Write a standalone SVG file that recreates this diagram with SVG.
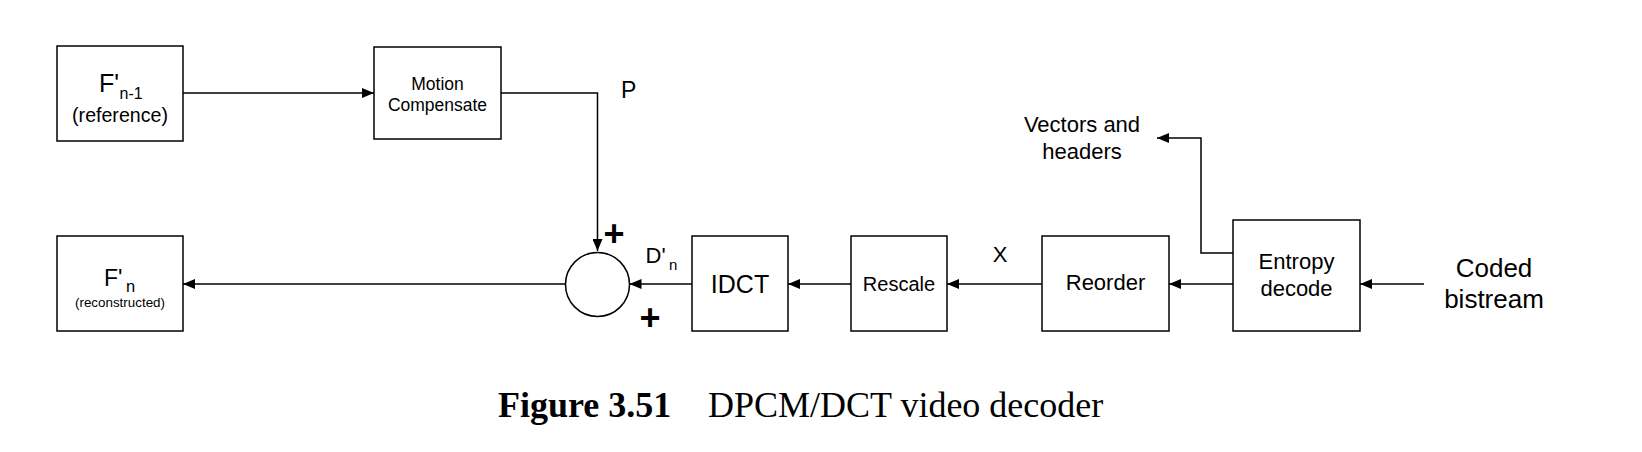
<svg xmlns="http://www.w3.org/2000/svg" width="1642" height="452" viewBox="0 0 1642 452">
<style>
  .box { fill: #ffffff; stroke: #000000; stroke-width: 1.5; }
  .conn { fill: none; stroke: #000000; stroke-width: 1.5; }
  .t { font-family: "Liberation Sans", Arial, Helvetica, sans-serif; fill: #000000; }
  .mid { text-anchor: middle; }
  .plus { font-family: "Liberation Sans", Arial, Helvetica, sans-serif; font-weight: bold; font-size: 36px; text-anchor: middle; fill: #000000; }
  .cap { font-family: "Liberation Serif", "Times New Roman", serif; font-size: 36px; fill: #000000; }
</style>
<defs>
  <marker id="arrow" viewBox="0 0 12 10" refX="12" refY="5" markerWidth="12" markerHeight="10" markerUnits="userSpaceOnUse" orient="auto">
    <path d="M0,0 L12,5 L0,10 z" fill="#000000"/>
  </marker>
</defs>
<rect width="1642" height="452" fill="#ffffff"/>

<g id="connectors">
  <path class="conn" d="M183,93 L374,93" marker-end="url(#arrow)"/>
  <path class="conn" d="M501,93 L597.5,93 L597.5,251" marker-end="url(#arrow)"/>
  <path class="conn" d="M692,284 L629.5,284" marker-end="url(#arrow)"/>
  <path class="conn" d="M565.5,284 L183,284" marker-end="url(#arrow)"/>
  <path class="conn" d="M851,284 L788,284" marker-end="url(#arrow)"/>
  <path class="conn" d="M1042,284 L947,284" marker-end="url(#arrow)"/>
  <path class="conn" d="M1233,284 L1169,284" marker-end="url(#arrow)"/>
  <path class="conn" d="M1233,253 L1201,253 L1201,138 L1157,138" marker-end="url(#arrow)"/>
  <path class="conn" d="M1424,284 L1360,284" marker-end="url(#arrow)"/>
</g>

<g id="node-fn1">
  <rect class="box" x="57" y="46" width="126" height="95"/>
  <text class="t" x="99" y="92" font-size="25">F'<tspan x="119.5" dy="6.5" font-size="16">n-1</tspan></text>
  <text class="t mid" x="120" y="122" font-size="19.6">(reference)</text>
</g>

<g id="node-mc">
  <rect class="box" x="374" y="47" width="127" height="92"/>
  <text class="t mid" x="437.5" y="90" font-size="17.5">Motion</text>
  <text class="t mid" x="437.5" y="111" font-size="17.5">Compensate</text>
</g>

<g id="node-fn">
  <rect class="box" x="57" y="236" width="126" height="95"/>
  <text class="t" x="104" y="286" font-size="23">F'<tspan x="126" dy="5.5" font-size="16.5">n</tspan></text>
  <text class="t mid" x="120" y="306.5" font-size="13.4">(reconstructed)</text>
</g>

<g id="node-sum">
  <circle class="box" cx="597.5" cy="284.5" r="32"/>
</g>

<g id="node-idct">
  <rect class="box" x="692" y="236" width="96" height="95"/>
  <text class="t mid" x="740" y="293" font-size="25">IDCT</text>
</g>

<g id="node-rescale">
  <rect class="box" x="851" y="236" width="96" height="95"/>
  <text class="t mid" x="899" y="291" font-size="20">Rescale</text>
</g>

<g id="node-reorder">
  <rect class="box" x="1042" y="236" width="127" height="95"/>
  <text class="t mid" x="1105.5" y="290" font-size="22">Reorder</text>
</g>

<g id="node-entropy">
  <rect class="box" x="1233" y="220" width="127" height="111"/>
  <text class="t mid" x="1296.5" y="269" font-size="22">Entropy</text>
  <text class="t mid" x="1296.5" y="296" font-size="22">decode</text>
</g>

<g id="labels">
  <text class="t" x="621" y="98" font-size="23">P</text>
  <text class="plus" x="614" y="246">+</text>
  <text class="plus" x="650" y="330">+</text>
  <text class="t" x="645.5" y="263" font-size="22">D'<tspan x="669" dy="6.5" font-size="15">n</tspan></text>
  <text class="t mid" x="1000" y="262" font-size="22">X</text>
  <text class="t mid" x="1082" y="132" font-size="22">Vectors and</text>
  <text class="t mid" x="1082" y="159" font-size="22">headers</text>
  <text class="t mid" x="1494" y="277" font-size="26">Coded</text>
  <text class="t mid" x="1494" y="308" font-size="26">bistream</text>
</g>

<g id="caption">
  <text class="cap" x="498" y="417" font-weight="bold">Figure 3.51</text>
  <text class="cap" x="708" y="417">DPCM/DCT video decoder</text>
</g>
</svg>
